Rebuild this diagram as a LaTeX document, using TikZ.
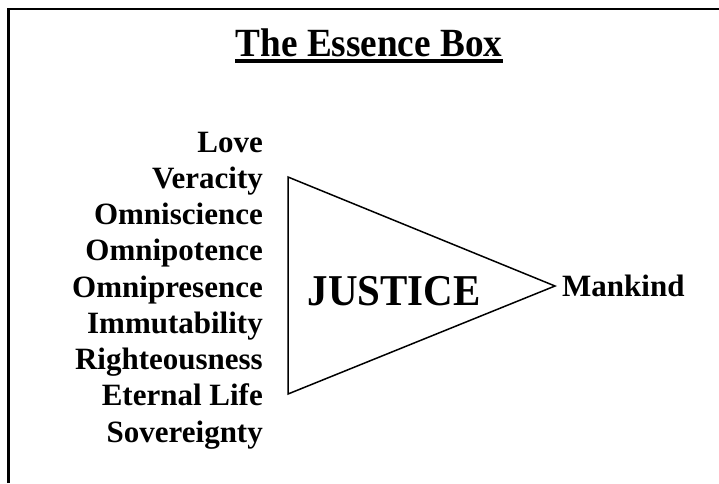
\documentclass[tikz,border=0pt]{standalone}
\usepackage{fontspec}
\setmainfont{Liberation Serif}
\newfontfamily\narrowserif[FakeStretch=0.93]{Liberation Serif}
\begin{document}
\begin{tikzpicture}[x=1pt,y=-1pt,
  lbl/.style={anchor=base east, inner sep=0pt, font=\fontsize{31}{31}\selectfont\bfseries},
  frameline/.style={line width=2.5pt},
  tri/.style={line width=1.5pt, line join=miter}]
\useasboundingbox (0,0) rectangle (719,483);
% frame (top and left edges only)
\coordinate (fBL) at (8.5,483);
\coordinate (fTL) at (8.5,9);
\coordinate (fTR) at (719,9);
\draw[frameline] (fBL) -- (fTL) -- (fTR);
% title
\node[anchor=base, inner sep=0pt, font=\narrowserif\fontsize{40}{40}\selectfont\bfseries] (title) at (369,56) {The Essence Box};
\coordinate (ulA) at ([yshift=-5pt]title.base west);
\coordinate (ulB) at ([yshift=-5pt]title.base east);
\draw[line width=4pt] (ulA) -- (ulB);
% triangle
\coordinate (tA) at (288,177);
\coordinate (tB) at (288,394);
\coordinate (tC) at (555,286);
\draw[tri] (tA) -- (tC) -- (tB) -- cycle;
\node[anchor=base, inner sep=0pt, font=\narrowserif\fontsize{44}{44}\selectfont\bfseries] (justice) at (394,305) {JUSTICE};
% attributes
\node[lbl] (l1) at (263,152.0) {Love};
\node[lbl] (l2) at (263,188.25) {Veracity};
\node[lbl] (l3) at (263,224.5) {Omniscience};
\node[lbl] (l4) at (263,260.75) {Omnipotence};
\node[lbl] (l5) at (263,297.0) {Omnipresence};
\node[lbl] (l6) at (263,333.25) {Immutability};
\node[lbl] (l7) at (263,369.5) {Righteousness};
\node[lbl] (l8) at (263,405.75) {Eternal Life};
\node[lbl] (l9) at (263,442.0) {Sovereignty};
% output
\node[anchor=base west, inner sep=0pt, font=\fontsize{31}{31}\selectfont\bfseries] (mankind) at (562,296) {Mankind};
\end{tikzpicture}
\end{document}
